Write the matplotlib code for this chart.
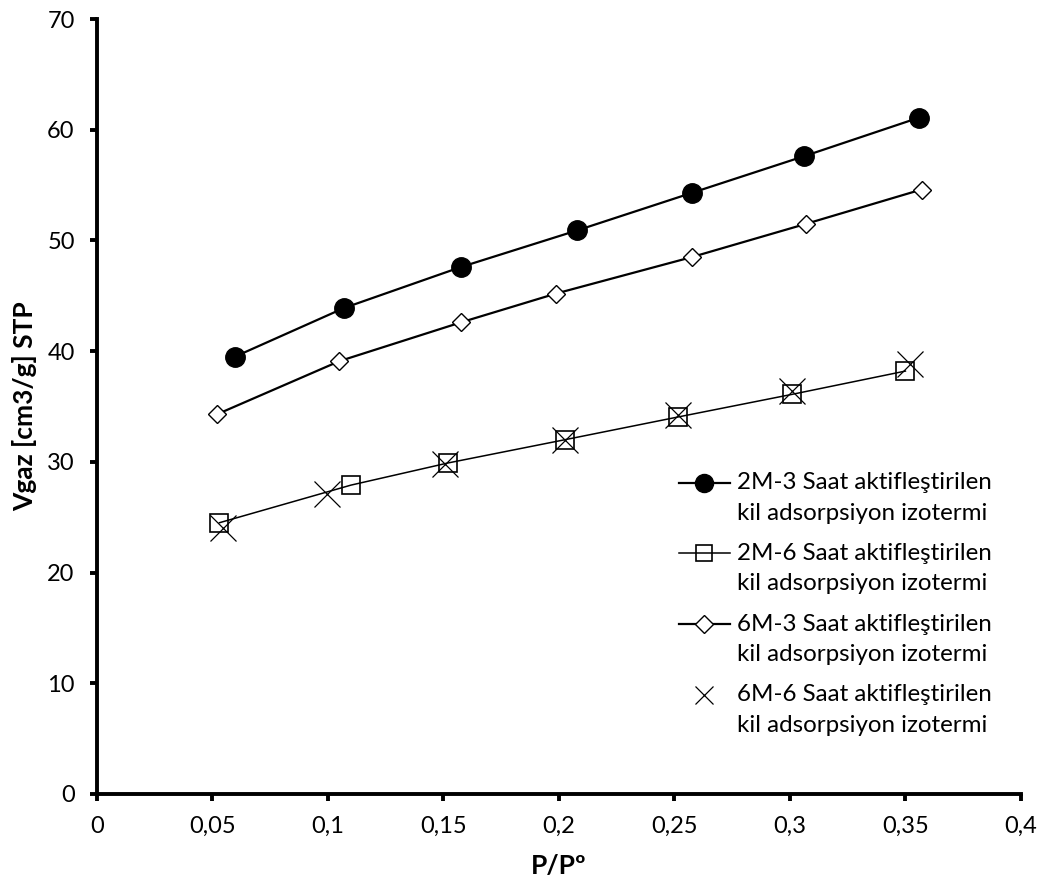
import matplotlib
matplotlib.use("Agg")
import matplotlib.pyplot as plt
import numpy as np
from matplotlib.legend_handler import HandlerLine2D

plt.rcParams['font.family'] = ['Lato', 'DejaVu Sans']

# Data
x_2m3 = [0.0597, 0.107, 0.1576, 0.2078, 0.2576, 0.306, 0.356]
y_2m3 = [39.5, 43.9, 47.6, 50.9, 54.3, 57.6, 61.1]

x_2m6 = [0.053, 0.110, 0.152, 0.2026, 0.2515, 0.301, 0.350]
y_2m6 = [24.5, 27.9, 29.9, 32.0, 34.05, 36.1, 38.2]

x_6m3 = [0.052, 0.105, 0.1576, 0.1987, 0.2576, 0.307, 0.357]
y_6m3 = [34.3, 39.1, 42.6, 45.2, 48.5, 51.5, 54.6]

x_6m6 = [0.0545, 0.0996, 0.1507, 0.2026, 0.2515, 0.301, 0.352]
y_6m6 = [24.0, 27.1, 29.8, 32.0, 34.2, 36.4, 38.8]

labels = ["2M-3 Saat aktifleştirilen\nkil adsorpsiyon izotermi",
          "2M-6 Saat aktifleştirilen\nkil adsorpsiyon izotermi",
          "6M-3 Saat aktifleştirilen\nkil adsorpsiyon izotermi",
          "6M-6 Saat aktifleştirilen\nkil adsorpsiyon izotermi"]

xticks = [0, 0.05, 0.1, 0.15, 0.2, 0.25, 0.3, 0.35, 0.4]
xticklabels = ["0", "0,05", "0,1", "0,15", "0,2", "0,25", "0,3", "0,35", "0,4"]
yticks = [0, 10, 20, 30, 40, 50, 60, 70]


class ShiftedHandler(HandlerLine2D):
    def __init__(self, dy, ms, **kw):
        super().__init__(**kw)
        self.dy = dy
        self.ms = ms

    def create_artists(self, legend, orig_handle, xdescent, ydescent,
                       width, height, fontsize, trans):
        arts = super().create_artists(legend, orig_handle, xdescent, ydescent,
                                      width, height, fontsize, trans)
        for a in arts:
            a.set_ydata(np.asarray(a.get_ydata()) + self.dy)
            a.set_markersize(self.ms)
        return arts


fig = plt.figure(figsize=(10.46, 8.89), dpi=100)
ax = fig.add_axes([0.0927, 0.1069, 0.8833, 0.8717])

l1, = ax.plot(x_2m3, y_2m3, color='black', lw=1.6, marker='o', ms=14,
              mfc='black', mec='black', label=labels[0], zorder=3)
l2, = ax.plot(x_2m6, y_2m6, color='black', lw=1.1, marker='s', ms=13,
              mfc='none', mec='black', mew=1.2, label=labels[1], zorder=3)
l3, = ax.plot(x_6m3, y_6m3, color='black', lw=1.6, marker='D', ms=9.5,
              mfc='white', mec='black', mew=1.0, label=labels[2], zorder=3)
l4, = ax.plot(x_6m6, y_6m6, color='black', lw=0, marker='x', ms=19,
              mec='black', mew=0.9, label=labels[3], zorder=4)

ax.set_xlim(0, 0.4)
ax.set_ylim(0, 70)
ax.set_xticks(xticks)
ax.set_xticklabels(xticklabels)
ax.set_yticks(yticks)

for s in ['top', 'right']:
    ax.spines[s].set_visible(False)
for s in ['left', 'bottom']:
    ax.spines[s].set_linewidth(2.8)

ax.tick_params(axis='both', direction='out', length=5, width=2.8,
               labelsize=17, pad=11)

ax.set_xlabel("P/Pº", fontsize=19, fontweight='bold', labelpad=12)
ax.set_ylabel("Vgaz [cm3/g] STP", fontsize=19, fontweight='bold', labelpad=7)

dy = 11.0
leg = ax.legend(loc='upper left', bbox_to_anchor=(0.630, 0.415), frameon=False,
                fontsize=17.4, handlelength=2.1, handletextpad=0.3,
                labelspacing=0.8, borderaxespad=0, borderpad=0,
                handler_map={l1: ShiftedHandler(dy, 13),
                             l2: ShiftedHandler(dy, 12),
                             l3: ShiftedHandler(dy, 9),
                             l4: ShiftedHandler(dy, 13)})
for t in leg.get_texts():
    t.set_linespacing(1.55)

fig.savefig("out.png", dpi=100)
